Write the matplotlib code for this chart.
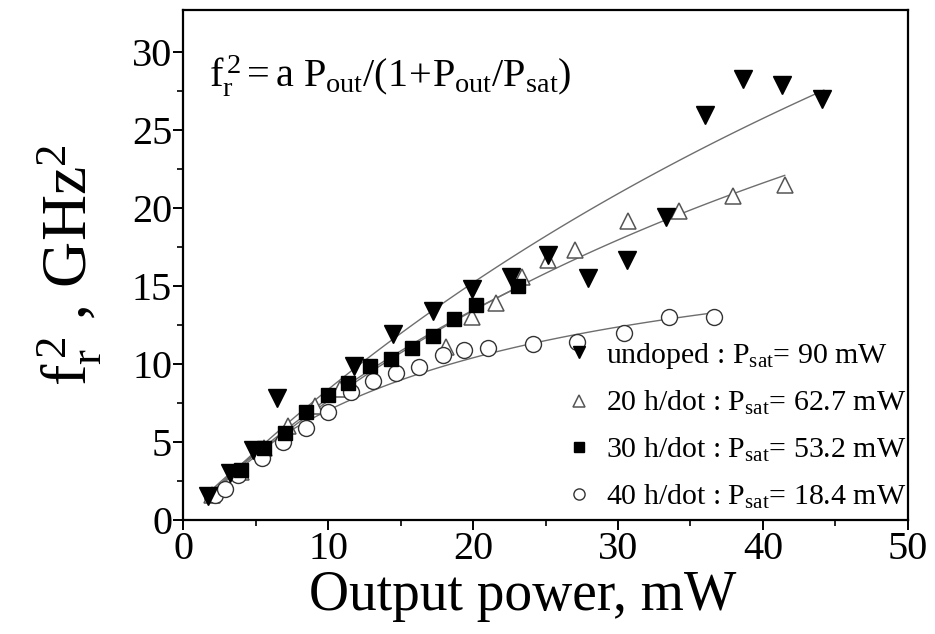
import numpy as np
import matplotlib
matplotlib.use('Agg')
import matplotlib.pyplot as plt

## fonts: Times-like serif everywhere, also inside mathtext
plt.rcParams['font.family'] = ['Liberation Serif', 'DejaVu Serif']
plt.rcParams['mathtext.fontset'] = 'custom'
plt.rcParams['mathtext.rm'] = 'Liberation Serif'
plt.rcParams['mathtext.it'] = 'Liberation Serif:italic'

undoped_x = [1.7, 3.2, 4.8, 6.5, 11.8, 14.5, 17.2, 19.9, 22.6, 25.2, 27.9, 30.6, 33.3, 36.0, 38.6, 41.3, 44.1]
undoped_y = [1.5, 3.0, 4.5, 7.8, 9.9, 11.9, 13.4, 14.8, 15.6, 17.0, 15.5, 16.7, 19.4, 26.0, 28.3, 27.9, 27.0]

h20_x = [2.0, 4.0, 5.6, 7.2, 9.1, 10.8, 18.1, 19.9, 21.6, 23.4, 25.2, 27.0, 30.7, 34.2, 37.9, 41.5]
h20_y = [1.6, 3.1, 4.6, 6.0, 7.3, 8.4, 11.1, 13.0, 13.9, 15.6, 16.7, 17.3, 19.2, 19.8, 20.8, 21.5]

h30_x = [4.0, 5.6, 7.0, 8.5, 10.0, 11.4, 12.9, 14.3, 15.8, 17.2, 18.7, 20.2, 23.1]
h30_y = [3.2, 4.6, 5.6, 6.9, 8.0, 8.8, 9.9, 10.3, 11.0, 11.8, 12.9, 13.8, 15.0]

h40_x = [2.2, 2.9, 3.8, 5.4, 6.9, 8.5, 10.0, 11.6, 13.1, 14.7, 16.3, 17.9, 19.4, 21.0, 24.1, 27.2, 30.4, 33.5, 36.6]
h40_y = [1.6, 2.0, 2.9, 4.0, 5.0, 5.9, 6.9, 8.2, 8.9, 9.4, 9.8, 10.6, 10.9, 11.0, 11.3, 11.4, 12.0, 13.0, 13.0]

## fit parameters  f^2 = a P / (1 + P/Psat)
fit_a = [0.93, 0.885, 0.926, 1.085]
fit_psat = [90, 62.7, 53.2, 18.4]
fit_end = [44.2, 41.5, 23.2, 36.7]

labels = ['undoped : P$_{\\rm sat}$= 90 mW',
          '20 h/dot : P$_{\\rm sat}$= 62.7 mW',
          '30 h/dot : P$_{\\rm sat}$= 53.2 mW',
          '40 h/dot : P$_{\\rm sat}$= 18.4 mW']

fig = plt.figure(figsize=(9.35, 6.34), dpi=100)
ax = fig.add_axes([0.196, 0.18, 0.775, 0.804])

## fit curves
for a, ps, xe in zip(fit_a, fit_psat, fit_end):
    p = np.linspace(1.5, xe, 100)
    ax.plot(p, a*p/(1+p/ps), color='#6e6e6e', lw=1.0, zorder=1)

h1, = ax.plot(undoped_x, undoped_y, 'v', ms=12.5, color='black', ls='none', zorder=3)
h2, = ax.plot(h20_x, h20_y, '^', ms=11.5, mfc='white', mec='#555555', mew=1.1, ls='none', zorder=2)
h3, = ax.plot(h30_x, h30_y, 's', ms=10.5, color='black', ls='none', zorder=3)
h4, = ax.plot(h40_x, h40_y, 'o', ms=11.5, mfc='white', mec='#333333', mew=1.0, ls='none', zorder=2)

ax.legend([h1, h2, h3, h4], labels, loc='lower right', bbox_to_anchor=(1.035, -0.035),
          frameon=False, fontsize=21.5, handlelength=0.6, handletextpad=0.6,
          labelspacing=0.62, markerscale=0.7)

ax.text(0.035, 0.872, r'$\mathrm{f_r^{\,2}= a\ P_{out}/(1\!+\!P_{out}/P_{sat})}$',
        transform=ax.transAxes, fontsize=29, va='center', ha='left')

ax.set_xlim(0, 50)
ax.set_ylim(0, 32.7)
ax.set_xticks([0, 10, 20, 30, 40, 50])
ax.set_xticks(np.arange(5, 50, 10), minor=True)
ax.set_yticks([0, 5, 10, 15, 20, 25, 30])
ax.set_yticks(np.arange(2.5, 32.5, 5), minor=True)
ax.tick_params(which='major', direction='out', length=7, width=1.4, labelsize=29, pad=1)
ax.tick_params(which='minor', direction='out', length=4, width=1.2)
for s in ax.spines.values():
    s.set_linewidth(1.6)

ax.set_xlabel('Output power, mW', fontsize=40, va='top')
ax.xaxis.set_label_coords(0.468, -0.098)
ax.set_ylabel(r'$\mathrm{f_r^{\,2}}$ , GHz$^2$', fontsize=46, labelpad=20)

plt.savefig('out.png', dpi=100)
